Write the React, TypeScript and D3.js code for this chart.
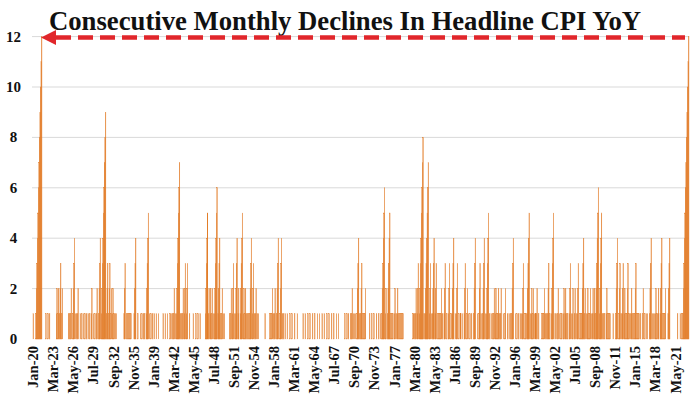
import React from "react";
import * as d3 from "d3";

// consecutive monthly declines in headline CPI YoY, monthly from Jan 1920
// one string per year, one char per month (a=10, b=11, c=12)
const cpi1920s = ["100001234567", "89abc0000000", "100010010000", "000000001201", "201230120000", "000000010101", "200123401010", "120001001001", "001001001001", "001200100100"];
const cpi1930s = ["120012340123", "456789012301", "230120120101", "010000000000", "000012300101", "010101000001", "234000100001", "001001010012", "345010010010", "010001000100"];
const cpi1940s = ["000000100010", "001000010100", "101201012345", "670101012012", "301230001000", "000100001000", "100010000000", "001234501201", "201201012345", "601234010120"];
const cpi1950s = ["101000000000", "101201230101", "234012001234", "501201201010", "101234012301", "012010100000", "000000010000", "000010101201", "012001234001", "234010100100"];
const cpi1960s = ["010000100010", "000100001000", "000000010001", "000010001000", "010001000010", "001000010001", "000010001000", "010001000010", "001000000000", "001000100100"];
const cpi1970s = ["010120101010", "012340101230", "101012000000", "010001000100", "001000100100", "123456012001", "234501010100", "120101201010", "101010000000", "000000000001"];
const cpi1980s = ["101012012301", "234567801012", "345670123010", "123401230010", "101012010012", "300100123001", "012340010123", "001001001000", "123001201001", "001000123400"];
const cpi1990s = ["010012301001", "234010123450", "100100101201", "201012010120", "001001200010", "010010123400", "010010010010", "101230010101", "234501012012", "010101200100"];
const cpi2000s = ["000101012010", "101230100123", "450010100120", "100101001201", "201010012301", "012001201012", "300101012340", "120101201012", "010120120123", "456012345010"];
const cpi2010s = ["101001201010", "100000100001", "234001230101", "230120101230", "101012010101", "230101010010", "001200100101", "000123401010", "101201012001", "234010101200"];
const cpi2020s = ["001234000000", "000000001000", "010010123456", "789abc"];

const tickLabels = ["Jan-20", "Mar-23", "May-26", "Jul-29", "Sep-32", "Nov-35", "Jan-39", "Mar-42", "May-45", "Jul-48", "Sep-51", "Nov-54", "Jan-58", "Mar-61", "May-64", "Jul-67", "Sep-70", "Nov-73", "Jan-77", "Mar-80", "May-83", "Jul-86", "Sep-89", "Nov-92", "Jan-96", "Mar-99", "May-02", "Jul-05", "Sep-08", "Nov-11", "Jan-15", "Mar-18", "May-21"];
const tickStep = 38; // months between labels
const yTicks = [0, 2, 4, 6, 8, 10, 12];

const values: number[] = [cpi1920s, cpi1930s, cpi1940s, cpi1950s, cpi1960s, cpi1970s, cpi1980s, cpi1990s, cpi2000s, cpi2010s, cpi2020s]
  .flat()
  .join("")
  .split("")
  .map((c) => parseInt(c, 16));

export default function App() {
  const width = 700;
  const height = 394;

  const x = d3.scaleBand<number>().domain(d3.range(values.length)).range([33, 689]).padding(0);
  const y = d3.scaleLinear().domain([0, 12]).range([339, 36.6]);
  const bw = x.bandwidth();
  const serif = "'Liberation Serif', 'Times New Roman', serif";
  const arrowY = y(12) + 1;
  const barColor = "#E27D2A";

  return (
    <svg width={width} height={height} style={{ position: "absolute", left: 0, top: 0, background: "#fff" }}>
      {yTicks.filter((t) => t > 0).map((t) => (
        <line key={t} x1={32} x2={689} y1={y(t)} y2={y(t)} stroke="#d9d9d9" strokeWidth={1} />
      ))}
      {yTicks.map((t) => (
        <text key={t} x={13.5} y={y(t) + 5} textAnchor="middle" fontFamily={serif} fontWeight="bold" fontSize={15} fill="#111">
          {t}
        </text>
      ))}
      <g fill={barColor} stroke={barColor} strokeWidth={0.35}>
        {values.map((v, i) =>
          v > 0 ? <rect key={i} x={x(i)} y={y(v)} width={bw} height={y(0) - y(v)} /> : null
        )}
      </g>
      {tickLabels.map((lab, k) => {
        const cx = (x(k * tickStep) as number) + bw / 2;
        return (
          <text key={lab} transform={`translate(${cx + 5},346) rotate(-90)`} textAnchor="end" fontFamily={serif} fontWeight="bold" fontSize={14.5} fill="#111">
            {lab}
          </text>
        );
      })}
      <text x={49} y={30} fontFamily={serif} fontWeight="bold" fontSize={26.7} fill="#111">
        Consecutive Monthly Declines In Headline CPI YoY
      </text>
      <line x1={56} x2={685} y1={arrowY} y2={arrowY} stroke="#E1262B" strokeWidth={4.5} strokeDasharray="15 7" />
      <polygon points={`${41},${arrowY} ${56},${arrowY - 7.5} ${56},${arrowY + 7.5}`} fill="#E1262B" />
    </svg>
  );
}
